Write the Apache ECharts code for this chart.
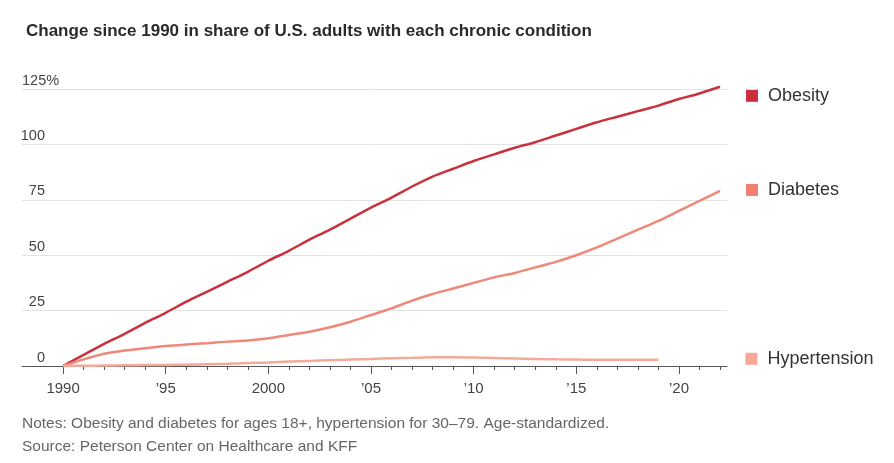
<!DOCTYPE html>
<html>
<head>
<meta charset="utf-8">
<script src="https://cdn.jsdelivr.net/npm/echarts@6/dist/echarts.min.js"></script>
<style>
  html, body { margin: 0; padding: 0; background: #fff; }
  #chart { width: 894px; height: 463px; }
</style>
</head>
<body>
<div id="chart"></div>
<script>
// Años y valores (cambio % desde 1990)
const years = [1990, 1991, 1992, 1993, 1994, 1995, 1996, 1997, 1998, 1999,
  2000, 2001, 2002, 2003, 2004, 2005, 2006, 2007, 2008, 2009,
  2010, 2011, 2012, 2013, 2014, 2015, 2016, 2017, 2018, 2019,
  2020, 2021, 2022]
const obesity = [0, 5, 10, 14.5, 19.5, 24, 29, 33.5, 38, 42.5,
  47.5, 52, 57, 61.5, 66.5, 71.5, 76, 81, 85.5, 89,
  92.5, 95.5, 98.5, 101, 104, 107, 110, 112.5, 115, 117.5,
  120.5, 123, 126]
const diabetes = [0, 3, 5.5, 7, 8, 9, 9.7, 10.3, 11, 11.5,
  12.5, 14, 15.5, 17.5, 20, 23, 26, 29.5, 32.5, 35,
  37.5, 40, 42, 44.5, 47, 50, 53.5, 57.5, 61.5, 65.5,
  70, 74.5, 79]
const hypertension = [0, 0.1, 0.2, 0.3, 0.4, 0.5, 0.6, 0.8, 1, 1.3,
  1.6, 2, 2.3, 2.6, 2.9, 3.2, 3.5, 3.7, 3.9, 3.9,
  3.8, 3.6, 3.4, 3.2, 3.0, 2.9, 2.8, 2.8, 2.8, 2.8]
const majorYears = [1990, 1995, 2000, 2005, 2010, 2015, 2020]
const yTicks = [0, 25, 50, 75, 100]

const FONT = '"Liberation Sans", sans-serif'
const X_MIN = 1988
const X_MAX = 2022.34

function pares(valores) {
  return valores.map((v, i) => [years[i], v])
}

function etiquetaFinal(nombre, color, distancia, desplazamiento) {
  return {
    show: true,
    formatter: '{sq|}{t|' + nombre + '}',
    distance: distancia,
    offset: desplazamiento,
    rich: {
      sq: { width: 12, height: 12, backgroundColor: color },
      t: { fontSize: 18, color: '#333', fontFamily: FONT, padding: [0, 0, 0, 10] },
    },
  }
}

function serie(nombre, valores, color, colorCuadro, distancia, desplazamiento) {
  return {
    name: nombre,
    type: 'line',
    data: pares(valores),
    smooth: 0.3,
    showSymbol: false,
    clip: false,
    lineStyle: { color, width: 2.5 },
    itemStyle: { color },
    endLabel: etiquetaFinal(nombre, colorCuadro, distancia, desplazamiento),
    emphasis: { disabled: true },
  }
}

const chart = echarts.init(document.getElementById('chart'))

chart.setOption({
  animation: false,
  textStyle: { fontFamily: FONT },
  title: {
    text: 'Change since 1990 in share of U.S. adults with each chronic condition',
    left: 21,
    top: 18,
    textStyle: { fontFamily: FONT, fontSize: 17, fontWeight: 'bold', color: '#2a2a2a' },
  },
  graphic: [
    {
      type: 'text',
      left: 22,
      top: 412,
      style: {
        text: 'Notes: Obesity and diabetes for ages 18+, hypertension for 30\u201379. Age-standardized.\nSource: Peterson Center on Healthcare and KFF',
        font: '15.5px "Liberation Sans", sans-serif',
        fill: '#666',
        lineHeight: 23,
      },
    },
  ],
  grid: { left: 22, right: 167, top: 89, bottom: 97 },
  xAxis: [
    {
      type: 'value',
      min: X_MIN,
      max: X_MAX,
      splitLine: { show: false },
      axisLine: { show: true, lineStyle: { color: '#555', width: 1 } },
      axisTick: { show: true, customValues: years, length: 4, lineStyle: { color: '#555' } },
      axisLabel: { show: false },
    },
    {
      type: 'value',
      position: 'bottom',
      min: X_MIN,
      max: X_MAX,
      splitLine: { show: false },
      axisLine: { show: false },
      axisTick: { show: true, customValues: majorYears, length: 8, lineStyle: { color: '#555' } },
      axisLabel: {
        show: true,
        customValues: majorYears,
        margin: 15,
        fontSize: 15,
        color: '#444',
        fontFamily: FONT,
        formatter: (v) => (v === 1990 || v === 2000 ? String(v) : '\u2019' + String(v).slice(2)),
      },
    },
  ],
  yAxis: [
    {
      type: 'value',
      min: 0,
      max: 125,
      interval: 25,
      axisLine: { show: false },
      axisTick: { show: false },
      splitLine: { lineStyle: { color: '#e3e3e3', width: 1 } },
      axisLabel: {
        inside: true,
        customValues: yTicks,
        align: 'right',
        verticalAlign: 'bottom',
        margin: 23,
        padding: [0, 0, 1, 0],
        fontSize: 14.5,
        color: '#444',
        fontFamily: FONT,
      },
    },
    {
      type: 'value',
      position: 'left',
      min: 0,
      max: 125,
      interval: 25,
      axisLine: { show: false },
      axisTick: { show: false },
      splitLine: { show: false },
      axisLabel: {
        inside: true,
        customValues: [125],
        align: 'left',
        verticalAlign: 'bottom',
        margin: 0,
        padding: [0, 0, 1, 0],
        fontSize: 14.5,
        color: '#444',
        fontFamily: FONT,
        formatter: (v) => v + '%',
      },
    },
  ],
  series: [
    serie('Obesity', obesity, '#c8323c', '#c8313a', 26, [0, 9]),
    serie('Diabetes', diabetes, '#ee8878', '#f08070', 26, [0, -1]),
    serie('Hypertension', hypertension, '#f4aa9a', '#f6a898', 87, [0, -1]),
  ],
})
</script>
</body>
</html>
